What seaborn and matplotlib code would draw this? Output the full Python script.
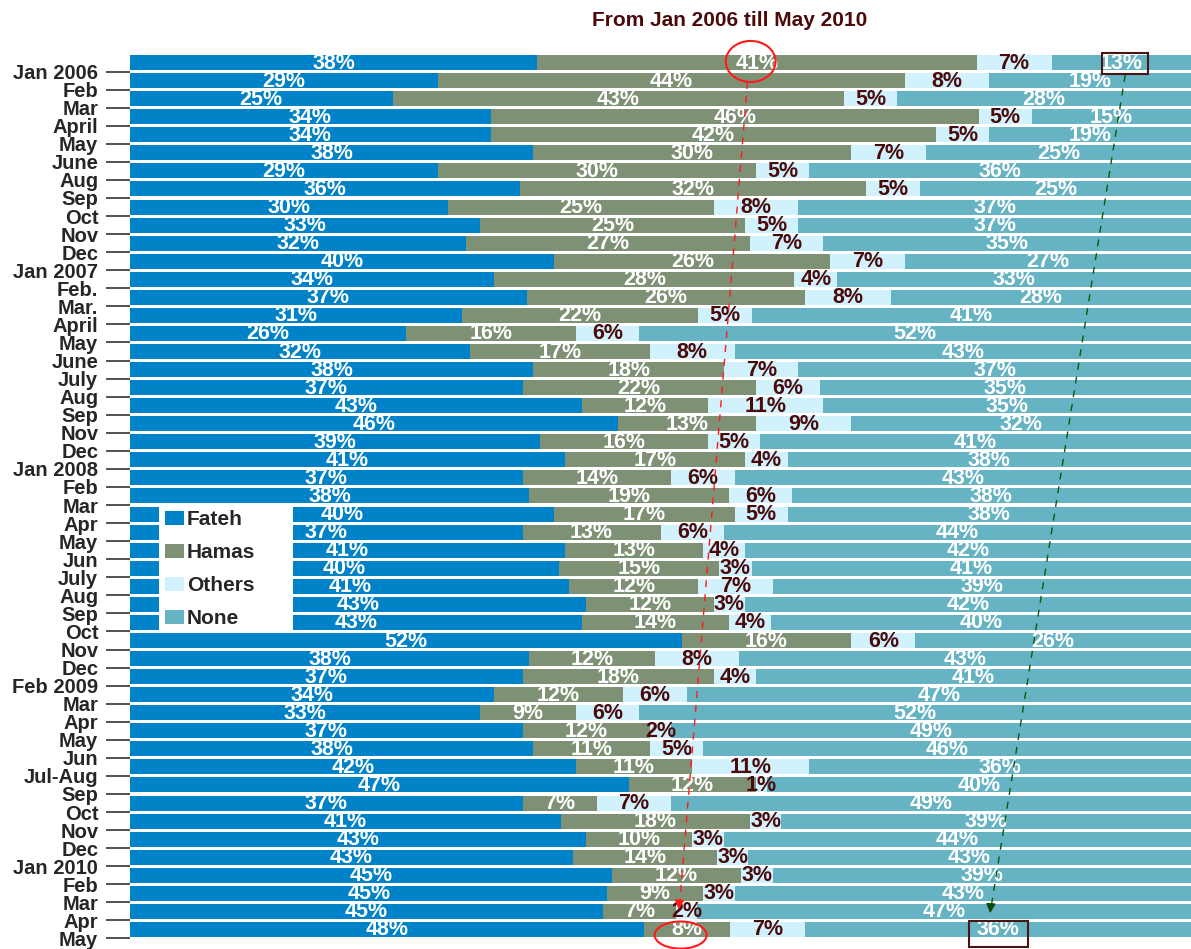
import numpy as np
import matplotlib
matplotlib.use("Agg")
import matplotlib.pyplot as plt
import seaborn as sns
from matplotlib.patches import Patch, Ellipse, Rectangle

sns.set_style("white")
plt.rcParams['font.family'] = ['Liberation Sans', 'DejaVu Sans']
plt.rcParams['font.weight'] = 'bold'

# Poll months (one bar each, top to bottom)
months = ["Jan 2006", "Feb", "Mar", "April", "May", "June", "Aug", "Sep", "Oct", "Nov",
          "Dec", "Jan 2007", "Feb.", "Mar.", "April", "May", "June", "July", "Aug", "Sep",
          "Nov", "Dec", "Jan 2008", "Feb", "Mar", "Apr", "May", "Jun", "July", "Aug",
          "Sep", "Oct", "Nov", "Dec", "Feb 2009", "Mar", "Apr", "May", "Jun", "Jul-Aug",
          "Sep", "Oct", "Nov", "Dec", "Jan 2010", "Feb", "Mar", "Apr", "May"]

# Support in percent
fateh = [38, 29, 25, 34, 34, 38, 29, 36, 30, 33, 32, 40, 34, 37, 31, 26, 32, 38, 37, 43,
         46, 39, 41, 37, 38, 40, 37, 41, 40, 41, 43, 43, 52, 38, 37, 34, 33, 37, 38, 42,
         47, 37, 41, 43, 43, 45, 45, 45, 48]
hamas = [41, 44, 43, 46, 42, 30, 30, 32, 25, 25, 27, 26, 28, 26, 22, 16, 17, 18, 22, 12,
         13, 16, 17, 14, 19, 17, 13, 13, 15, 12, 12, 14, 16, 12, 18, 12, 9, 12, 11, 11,
         12, 7, 18, 10, 14, 12, 9, 7, 8]
others = [7, 8, 5, 5, 5, 7, 5, 5, 8, 5, 7, 7, 4, 8, 5, 6, 8, 7, 6, 11,
          9, 5, 4, 6, 6, 5, 6, 4, 3, 7, 3, 4, 6, 8, 4, 6, 6, 2, 5, 11,
          1, 7, 3, 3, 3, 3, 3, 2, 7]
none = [13, 19, 28, 15, 19, 25, 36, 25, 37, 37, 35, 27, 33, 28, 41, 52, 43, 37, 35, 35,
        32, 41, 38, 43, 38, 38, 44, 42, 41, 39, 42, 40, 26, 43, 41, 47, 52, 49, 46, 36,
        40, 49, 39, 44, 43, 39, 43, 47, 36]

series = ["Fateh", "Hamas", "Others", "None"]
colors = ["#0082C8", "#7F9174", "#D1F1FD", "#65B3C3"]
label_colors = ["white", "white", "#4A0A0A", "white"]

vals = np.array([fateh, hamas, others, none], dtype=float)
shares = vals / vals.sum(axis=0)
cum = np.cumsum(shares, axis=0)
rows = np.arange(len(months))

fig = plt.figure(figsize=(11.91, 9.49), dpi=100)
ax = fig.add_axes([130 / 1191, 6 / 949, 1 - 130 / 1191, (943 - 53.5) / 949])

# stacked bars: draw cumulative totals from the right-most series back
for k in range(3, -1, -1):
    sns.barplot(x=cum[k], y=rows, orient="h", color=colors[k], saturation=1,
                width=0.83, linewidth=0, errorbar=None, ax=ax)

# percentage labels centred in each segment
for k in range(4):
    start = cum[k] - shares[k]
    for i in rows:
        ax.text(start[i] + shares[k][i] / 2, i + 0.03, f"{int(vals[k][i])}%",
                ha="center", va="center", fontsize=15.5, fontweight="bold",
                color=label_colors[k], zorder=5)

ax.set_xlim(0, 1)
ax.set_ylim(48.75, -0.5)
ax.set_xlabel("")
ax.set_ylabel("")
ax.set_xticks([])
ax.set_yticks(rows + 0.5)
ax.set_yticklabels(months, fontsize=14.5, fontweight="bold")
ax.tick_params(axis="y", direction="out", length=17.3, width=1.2, color="#333333", pad=5.5, left=True)
sns.despine(ax=ax, left=True, bottom=True)

# annotations: red circles + trend arrow, green boxes + trend arrow
ax.add_patch(Ellipse((0.585, -0.06), 0.047, 2.27, fill=False, ec="#FF1A1A", lw=1.5, clip_on=False, zorder=6))
ax.add_patch(Ellipse((0.519, 48.31), 0.049, 1.5, fill=False, ec="#FF1A1A", lw=1.5, clip_on=False, zorder=6))
ax.plot([0.582, 0.518], [1.08, 46.6], ls=(0, (5, 5)), color="#FF1A1A", lw=1, zorder=6)
ax.annotate("", xy=(0.517, 47.05), xytext=(0.518, 46.3),
            arrowprops=dict(arrowstyle="-|>", color="#FF1A1A", lw=1, mutation_scale=14), zorder=6)

ax.add_patch(Rectangle((0.916, -0.528), 0.0434, 1.163, fill=False, ec="#4A1515", lw=1.5, clip_on=False, zorder=6))
ax.add_patch(Rectangle((0.791, 47.53), 0.0556, 1.44, fill=False, ec="#4A1515", lw=1.5, clip_on=False, zorder=6))
ax.plot([0.938, 0.8115], [0.69, 46.8], ls=(0, (5, 5)), color="#0A5A0A", lw=1, zorder=6)
ax.annotate("", xy=(0.8106, 47.25), xytext=(0.8115, 46.5),
            arrowprops=dict(arrowstyle="-|>", color="#0A4A0A", lw=1, mutation_scale=14), zorder=6)

# legend on a white panel
panel = Rectangle((159 / 1191, (949 - 631) / 949), 134 / 1191, 128 / 949,
                  transform=fig.transFigure, facecolor="white", edgecolor="none", zorder=7)
fig.patches.append(panel)
handles = [Patch(facecolor=c, edgecolor="none") for c in colors]
leg = fig.legend(handles, series, loc="upper left", bbox_to_anchor=(165 / 1191, (949 - 510) / 949),
                 frameon=False, borderpad=0, borderaxespad=0, handlelength=0.9, handleheight=0.65,
                 handletextpad=0.15, labelspacing=0.68, prop={"size": 15, "weight": "bold"})
leg.set_zorder(8)

fig.text(730 / 1191, (949 - 20) / 949, "From Jan 2006 till May 2010", ha="center", va="center",
         fontsize=15, fontweight="bold", color="#4A0A0A")

fig.savefig("out.png", dpi=100)
